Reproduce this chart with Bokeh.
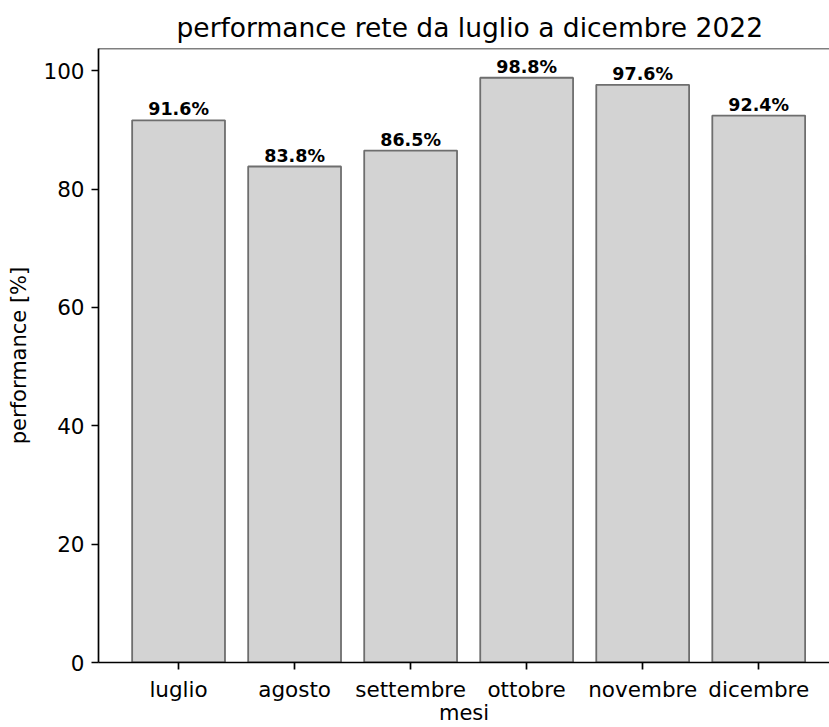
from bokeh.plotting import figure
from bokeh.models import Range1d, FixedTicker, Span, ColumnDataSource
from bokeh.embed import file_html
from bokeh.resources import INLINE
from bokeh.core.properties import value

months = ["luglio", "agosto", "settembre", "ottobre", "novembre", "dicembre"]
performance = [91.6, 83.8, 86.5, 98.8, 97.6, 92.4]
y_ticks = [0, 20, 40, 60, 80, 100]

idx = list(range(len(months)))
labels = [f"{v:.1f}%" for v in performance]
src = ColumnDataSource(dict(x=idx, top=performance, label=labels))

FONT = "DejaVu Sans"
ytop = max(performance) * 1.05

p = figure(width=829, height=727, output_backend="svg", toolbar_location=None,
           x_range=Range1d(-0.69, 5.61), y_range=Range1d(0, ytop),
           min_border_left=98, min_border_right=0, min_border_top=48, min_border_bottom=65)

p.vbar(x="x", top="top", width=0.8, bottom=0, source=src,
       fill_color="#d3d3d3", line_color="#6e6e6e", line_width=1.8)
p.text(x="x", y="top", text="label", source=src, text_align="center",
       text_baseline="bottom", y_offset=-1, text_font=value(FONT),
       text_font_size="17.5px", text_font_style="bold", text_color="black")

p.title.text = "performance rete da luglio a dicembre 2022"
p.title.align = "left"
p.title.offset = 78
p.title.standoff = 11
p.title.text_font = FONT
p.title.text_font_size = "26.5px"
p.title.text_font_style = "normal"
p.title.text_color = "black"

p.xgrid.visible = False
p.ygrid.visible = False
p.outline_line_color = None
p.add_layout(Span(location=ytop, dimension="width", line_color="black", line_width=1.7))

p.xaxis.ticker = FixedTicker(ticks=idx)
p.xaxis.major_label_overrides = {i: m for i, m in enumerate(months)}
p.yaxis.ticker = FixedTicker(ticks=y_ticks)
p.xaxis.axis_label = "mesi"
p.yaxis.axis_label = "performance [%]"

for ax in (p.xaxis, p.yaxis):
    ax.axis_line_color = "black"
    ax.axis_line_width = 1.7
    ax.major_tick_line_color = "black"
    ax.major_tick_line_width = 1.7
    ax.major_tick_out = 7
    ax.major_tick_in = 0
    ax.minor_tick_line_color = None
    ax.major_label_text_font = FONT
    ax.major_label_text_font_size = "21.5px"
    ax.major_label_text_color = "black"
    ax.axis_label_text_font = FONT
    ax.axis_label_text_font_size = "21px"
    ax.axis_label_text_font_style = "normal"
    ax.axis_label_text_color = "black"

p.xaxis.major_label_standoff = 7
p.xaxis.axis_label_standoff = -4
p.yaxis.major_label_standoff = 7
p.yaxis.axis_label_standoff = 9

open("out.html", "w").write(file_html(p, INLINE))
